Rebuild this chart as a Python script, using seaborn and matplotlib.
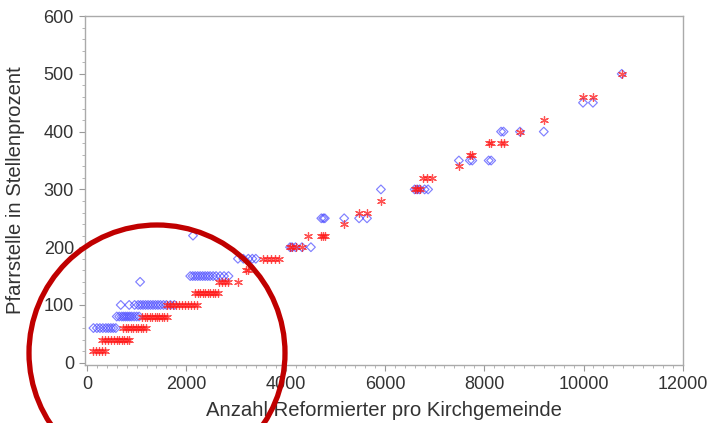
import matplotlib
matplotlib.use("Agg")
import matplotlib.pyplot as plt
import matplotlib.ticker as ticker
from matplotlib.patches import Ellipse
import pandas as pd
import seaborn as sns

# --- Data ---
# blue diamonds
blue_x = [130, 200, 260, 320, 380, 430, 480, 530, 580,
          600, 650, 700, 740, 780, 820, 860, 900, 950, 1000, 1050,
          680, 850, 960, 1030, 1080, 1130, 1180, 1230, 1280, 1330, 1380, 1430, 1480, 1540, 1600, 1680, 1760,
          1070,
          2080, 2130, 2180, 2230, 2280, 2330, 2380, 2430, 2480, 2540, 2600, 2680, 2760, 2850,
          2135,
          3040, 3150, 3250, 3330, 3400,
          4090, 4130, 4200, 4330, 4510,
          4720, 4760, 4790, 5180, 5480, 5640,
          5920, 6600, 6650, 6700, 6800, 6870,
          7490, 7710, 7760, 8090, 8140,
          8340, 8390, 8720, 9200,
          9990, 10190,
          10770]
blue_y = [60] * 9 + [80] * 11 + [100] * 17 + [140] + [150] * 14 + [220] + [180] * 5 \
    + [200] * 5 + [250] * 6 + [300] * 6 + [350] * 5 + [400] * 4 + [450] * 2 + [500]

# red asterisks
red_x = [130, 190, 250, 310, 370,
         300, 360, 420, 480, 540, 600, 650, 700, 750, 800, 840,
         730, 780, 830, 880, 930, 980, 1030, 1080, 1130, 1180,
         1110, 1160, 1210, 1260, 1310, 1360, 1410, 1460, 1510, 1560, 1610,
         1620, 1680, 1740, 1800, 1860, 1920, 1980, 2040, 2100, 2160, 2220,
         2180, 2230, 2280, 2330, 2380, 2430, 2480, 2530, 2580, 2640,
         2660, 2720, 2780, 2850, 3050,
         3200, 3250,
         3545, 3620, 3700, 3780, 3860,
         4090, 4130, 4200, 4330,
         4450, 4720, 4760, 4790,
         5180,
         5480, 5640,
         5920,
         6600, 6650, 6700,
         6770, 6850, 6950,
         7490,
         7710, 7760,
         8090, 8140, 8340, 8390,
         8720,
         9200,
         9990, 10190,
         10770]
red_y = [20] * 5 + [40] * 11 + [60] * 10 + [80] * 11 + [100] * 11 + [120] * 10 + [140] * 5 \
    + [160] * 2 + [180] * 5 + [200] * 4 + [220] * 4 + [240] + [260] * 2 + [280] + [300] * 3 \
    + [320] * 3 + [340] + [360] * 2 + [380] * 4 + [400] + [420] + [460] * 2 + [500]

df_blue = pd.DataFrame({"x": blue_x, "y": blue_y})
df_red = pd.DataFrame({"x": red_x, "y": red_y})

# --- Plot ---
sns.set_style("white")
plt.rcParams["font.family"] = ["Liberation Sans", "DejaVu Sans"]

fig = plt.figure(figsize=(7.1, 4.23), dpi=100)
ax = fig.add_axes([0.1197, 0.137, 0.842, 0.825])

sns.scatterplot(data=df_blue, x="x", y="y", marker="D", s=20,
                facecolors="none", edgecolor="#3c3cff", linewidth=0.85,
                alpha=0.65, ax=ax)
sns.scatterplot(data=df_red, x="x", y="y", marker=(6, 2, 0), s=32,
                color="#ff1a1a", linewidth=0.9, alpha=0.75, ax=ax)

ax.set_xlim(-40, 12000)
ax.set_ylim(-4, 600)
ax.xaxis.set_major_locator(ticker.MultipleLocator(2000))
ax.xaxis.set_minor_locator(ticker.MultipleLocator(200))
ax.yaxis.set_major_locator(ticker.MultipleLocator(100))
ax.yaxis.set_minor_locator(ticker.MultipleLocator(20))

ax.tick_params(axis="both", which="major", direction="out", length=4, width=0.8,
               color="#999999", labelsize=13, labelcolor="#333333", pad=4,
               bottom=True, left=True)
ax.tick_params(axis="both", which="minor", direction="out", length=2, width=0.6,
               color="#aaaaaa", bottom=True, left=True)

for side in ax.spines.values():
    side.set_visible(True)
    side.set_color("#aaaaaa")
    side.set_linewidth(1.0)

ax.set_xlabel("Anzahl Reformierter pro Kirchgemeinde", fontsize=14.6, color="#333333", labelpad=6)
ax.set_ylabel("Pfarrstelle in Stellenprozent", fontsize=14.6, color="#333333", labelpad=13)

# red highlight circle around the small parishes
circle = Ellipse((157 / 710, 1 - 353 / 423), 256 / 710, 256 / 423,
                 transform=fig.transFigure, fill=False, edgecolor="#c00000",
                 linewidth=3.8, clip_on=False, zorder=10)
fig.patches.append(circle)

fig.savefig("out.png", dpi=100)
